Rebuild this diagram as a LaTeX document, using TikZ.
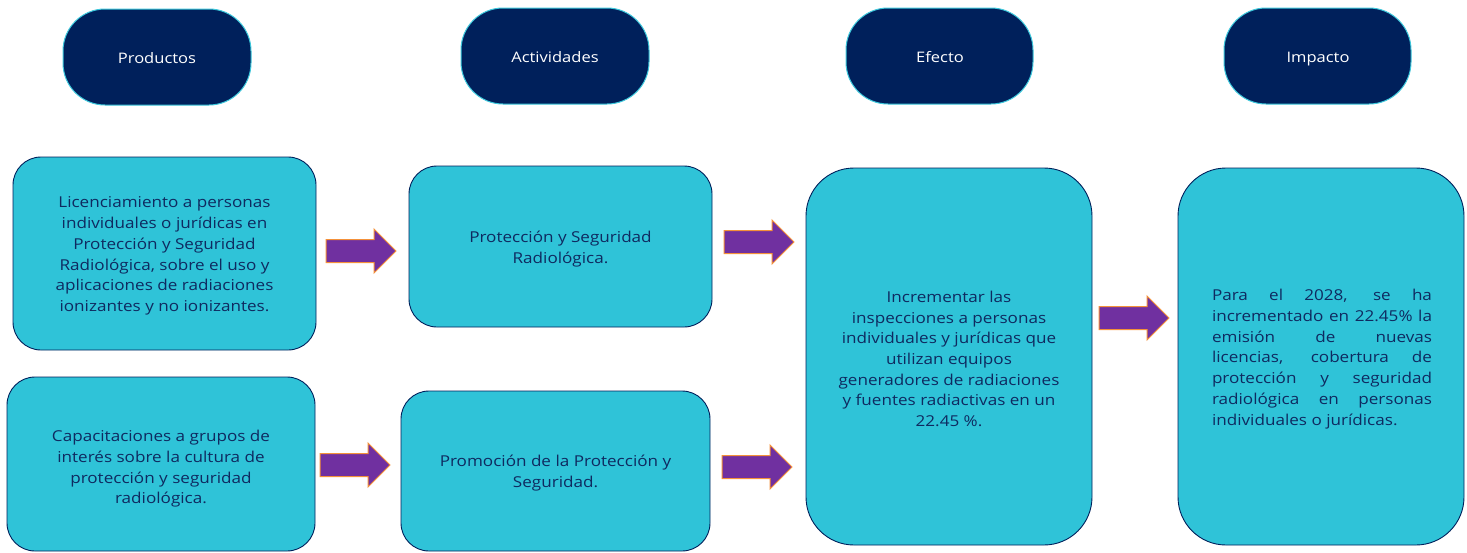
\documentclass[tikz,border=0pt]{standalone}
\usepackage{fontspec}
\setmainfont[FakeStretch=1.14]{Open Sans}
\definecolor{navy}{HTML}{00205B}
\definecolor{cyanbox}{HTML}{2FC3D8}
\definecolor{cyanline}{HTML}{3CC8DC}
\definecolor{txtnavy}{HTML}{0F2A60}
\definecolor{purp}{HTML}{7030A0}
\definecolor{orng}{HTML}{F4913A}
\begin{document}
\begin{tikzpicture}[x=1pt,y=-1pt,
  header/.style={draw=cyanline,line width=1pt,fill=navy,rounded corners=42pt},
  htext/.style={text=white,font=\fontsize{14.5}{17}\selectfont,text height=10.5pt,text depth=3pt,yshift=-2.5pt},
  box/.style={draw=navy,line width=0.9pt,fill=cyanbox,rounded corners=28pt},
  btext/.style={text=txtnavy,font=\fontsize{15}{20.7}\selectfont,align=center,yshift=-2pt},
  arrowst/.style={fill=purp,draw=orng,line width=1pt},
  barrow/.pic={\draw[arrowst] (0,-11.5) -- (48,-11.5) -- (48,-22) -- (70,0) -- (48,22) -- (48,11.5) -- (0,11.5) -- cycle;}
]
\useasboundingbox (0,0) rectangle (1467,552);
% headers
\draw[header] (63,9) rectangle (251,105);
\node[htext] (hp) at (157,57) {Productos};
\draw[header] (461,8) rectangle (649,104);
\node[htext] (ha) at (555,56) {Actividades};
\draw[header] (846,8) rectangle (1033,104);
\node[htext] (he) at (940,56) {Efecto};
\draw[header] (1224,8) rectangle (1411,104);
\node[htext] (hi) at (1318,56) {Impacto};
% boxes
\draw[box] (13,157) rectangle (316,350);
\node[btext] (b1) at (164.5,254) {Licenciamiento a personas\\individuales o jurídicas en\\Protección y Seguridad\\Radiológica, sobre el uso y\\aplicaciones de radiaciones\\ionizantes y no ionizantes.};
\draw[box] (7,377) rectangle (315,551);
\node[btext] (b2) at (161,467) {Capacitaciones a grupos de\\interés sobre la cultura de\\protección y seguridad\\radiológica.};
\draw[box] (409,166) rectangle (712,327);
\node[btext] (b3) at (560.5,247) {Protección y Seguridad\\Radiológica.};
\draw[box] (401,391) rectangle (710,551);
\node[btext] (b4) at (555.5,471) {Promoción de la Protección y\\Seguridad.};
\draw[box,rounded corners=48pt] (806,168) rectangle (1092,545);
\node[btext] (b5) at (949,357) {Incrementar las\\inspecciones a personas\\individuales y jurídicas que\\utilizan equipos\\generadores de radiaciones\\y fuentes radiactivas en un\\22.45 \%.};
\draw[box,rounded corners=48pt] (1178,168) rectangle (1464,545);
\node[text=txtnavy,font=\fontsize{15}{20.7}\selectfont,text width=220pt,align=justify,yshift=-2pt] (b6) at (1322,357) {\hyphenpenalty=10000 Para el 2028, se ha\linebreak incrementado en 22.45\% la\linebreak emisión de nuevas\linebreak licencias, cobertura de\linebreak protección y seguridad\linebreak radiológica en personas\linebreak individuales o jurídicas.};
% arrows
\pic at (326,251) {barrow};
\pic at (724,242) {barrow};
\pic at (320,465) {barrow};
\pic at (722,467) {barrow};
\pic at (1099,318) {barrow};
\end{tikzpicture}
\end{document}
